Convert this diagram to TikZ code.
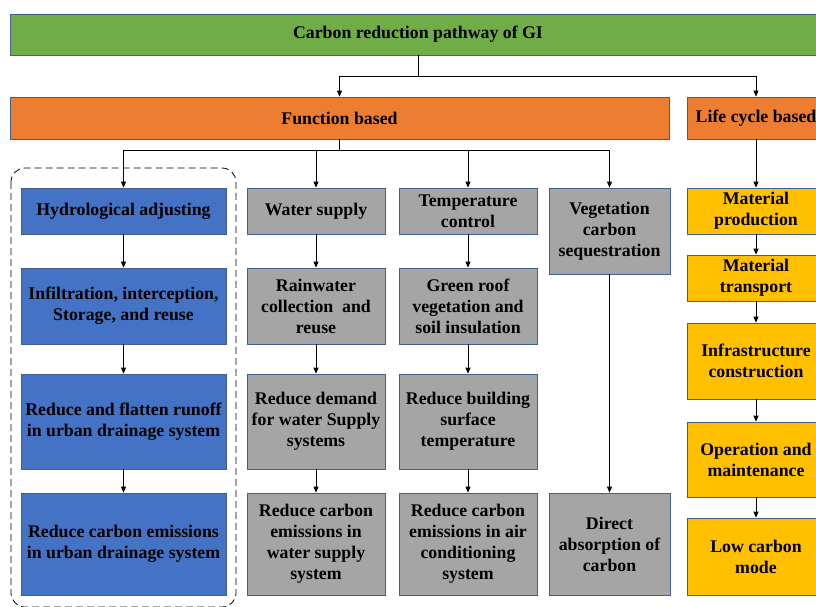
\documentclass[tikz,border=0pt]{standalone}
\usepackage{fontspec}
\setmainfont{Liberation Serif}
\usetikzlibrary{arrows.meta}

\definecolor{fillGreen}{HTML}{70AD47}
\definecolor{fillOrange}{HTML}{ED7D31}
\definecolor{fillBlue}{HTML}{4472C4}
\definecolor{fillGray}{HTML}{A5A5A5}
\definecolor{fillGold}{HTML}{FFC000}
\definecolor{edgeBlue}{HTML}{41608F}

\tikzset{
  box/.style={draw=edgeBlue, line width=0.8pt, inner sep=0pt, align=center,
    font=\bfseries\fontsize{17.8}{21}\selectfont, text=black},
  greenbox/.style={box, fill=fillGreen},
  orangebox/.style={box, fill=fillOrange},
  bluebox/.style={box, fill=fillBlue},
  graybox/.style={box, fill=fillGray},
  goldbox/.style={box, fill=fillGold},
  link/.style={draw=black, line width=0.8pt},
  arr/.style={link, -{Triangle[length=6pt,width=5pt]}},
  groupframe/.style={draw=black, line width=0.8pt, dash pattern=on 7pt off 4pt, rounded corners=14pt}
}

\begin{document}
\begin{tikzpicture}[x=1pt,y=-1pt]
\useasboundingbox (0,0) rectangle (816,606);

% top level
\node[greenbox, minimum width=816pt, minimum height=41pt] (top) at (418,34.5) {Carbon reduction pathway of GI};
\node[orangebox, minimum width=659pt, minimum height=42pt] (fb) at (339.5,118) {Function based};
\node[orangebox, minimum width=138pt, minimum height=42pt] (lc) at (756,118) {Life cycle based};

% hydrological column
\node[bluebox, minimum width=205pt, minimum height=46pt] (h1) at (123.5,211) {Hydrological adjusting};
\node[bluebox, minimum width=205pt, minimum height=76pt] (h2) at (123.5,306) {Infiltration, interception,\\Storage, and reuse};
\node[bluebox, minimum width=205pt, minimum height=95pt] (h3) at (123.5,421.5) {Reduce and flatten runoff\\in urban drainage system};
\node[bluebox, minimum width=205pt, minimum height=102pt] (h4) at (123.5,544) {Reduce carbon emissions\\in urban drainage system};

% water supply column
\node[graybox, minimum width=138pt, minimum height=46pt] (w1) at (316,211) {Water supply};
\node[graybox, minimum width=138pt, minimum height=76pt] (w2) at (316,306) {Rainwater\\collection\ \ and\\reuse};
\node[graybox, minimum width=138pt, minimum height=95pt] (w3) at (316,421.5) {Reduce demand\\for water Supply\\systems};
\node[graybox, minimum width=138pt, minimum height=102pt] (w4) at (316,544) {Reduce carbon\\emissions in\\water supply\\system};

% temperature column
\node[graybox, minimum width=138pt, minimum height=46pt] (t1) at (468,211) {Temperature\\control};
\node[graybox, minimum width=138pt, minimum height=76pt] (t2) at (468,306) {Green roof\\vegetation and\\soil insulation};
\node[graybox, minimum width=138pt, minimum height=95pt] (t3) at (468,421.5) {Reduce building\\surface\\temperature};
\node[graybox, minimum width=138pt, minimum height=102pt] (t4) at (468,544) {Reduce carbon\\emissions in air\\conditioning\\system};

% vegetation column
\node[graybox, minimum width=121pt, minimum height=86pt] (v1) at (609.5,231) {Vegetation\\carbon\\sequestration};
\node[graybox, minimum width=121pt, minimum height=102pt] (v2) at (609.5,544) {Direct\\absorption of\\carbon};

% life cycle column
\node[goldbox, minimum width=138pt, minimum height=46pt] (l1) at (756,211) {Material\\production};
\node[goldbox, minimum width=138pt, minimum height=46pt] (l2) at (756,278) {Material\\transport};
\node[goldbox, minimum width=138pt, minimum height=76pt] (l3) at (756,361) {Infrastructure\\construction};
\node[goldbox, minimum width=138pt, minimum height=75pt] (l4) at (756,459.5) {Operation and\\maintenance};
\node[goldbox, minimum width=138pt, minimum height=77pt] (l5) at (756,556.5) {Low carbon\\mode};

% dashed frame around the hydrological chain
\draw[groupframe] (11,168) rectangle (236,607);

% connectors from the top bar
\draw[link] (top.south) -- ++(0,21) coordinate (tj);
\draw[arr] (tj) -| (fb.north);
\draw[arr] (tj) -| (lc.north);

% connectors from the function based bar
\draw[link] (fb.south) -- ++(0,11) coordinate (fj);
\draw[arr] (fj) -| (h1.north);
\draw[arr] (fj) -| (w1.north);
\draw[arr] (fj) -| (t1.north);
\draw[arr] (fj) -| (v1.north);

% chains down each column
\draw[arr] (h1) -- (h2);
\draw[arr] (h2) -- (h3);
\draw[arr] (h3) -- (h4);
\draw[arr] (w1) -- (w2);
\draw[arr] (w2) -- (w3);
\draw[arr] (w3) -- (w4);
\draw[arr] (t1) -- (t2);
\draw[arr] (t2) -- (t3);
\draw[arr] (t3) -- (t4);
\draw[arr] (v1) -- (v2);
\draw[arr] (lc) -- (l1);
\draw[arr] (l1) -- (l2);
\draw[arr] (l2) -- (l3);
\draw[arr] (l3) -- (l4);
\draw[arr] (l4) -- (l5);
\end{tikzpicture}
\end{document}
